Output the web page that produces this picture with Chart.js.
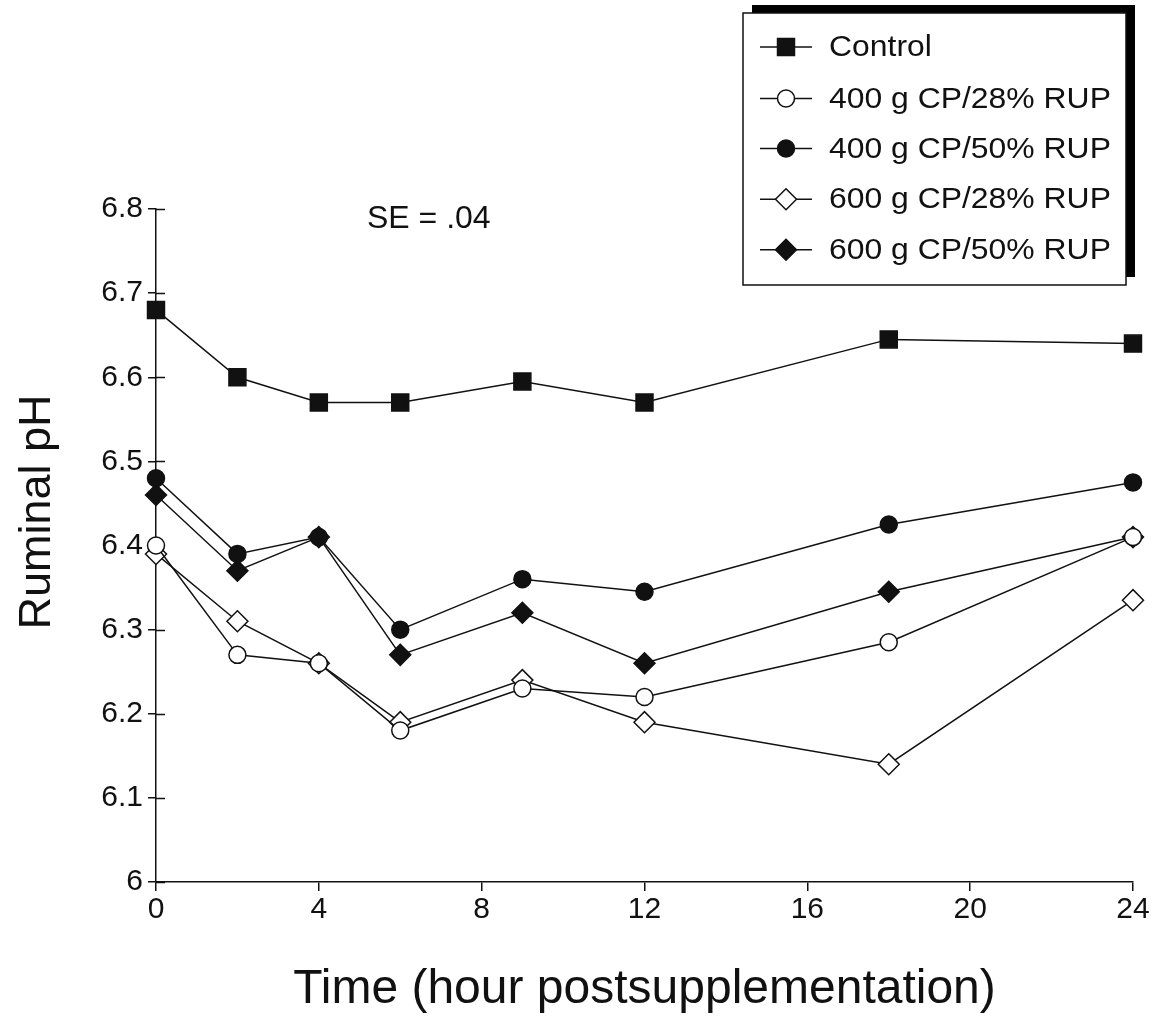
<!DOCTYPE html>
<html>
<head>
<meta charset="utf-8">
<title>Ruminal pH</title>
<script src="https://cdn.jsdelivr.net/npm/chart.js@4.4.1/dist/chart.umd.min.js"></script>
<style>
  html, body { margin: 0; padding: 0; background: #ffffff; }
  #wrap { width: 1159px; height: 1021px; }
  canvas { display: block; }
</style>
</head>
<body>
<div id="wrap"><canvas id="chart" width="1159" height="1021"></canvas></div>
<script>
// Sampling times (hours after supplementation)
const hours = [0, 2, 4, 6, 9, 12, 18, 24];

// Treatment names
const seriesNames = [
  'Control',
  '400 g CP/28% RUP',
  '400 g CP/50% RUP',
  '600 g CP/28% RUP',
  '600 g CP/50% RUP'
];

// Ruminal pH by treatment
const controlPH   = [6.68, 6.60, 6.57, 6.57, 6.595, 6.57, 6.645, 6.64];
const cp400rup28  = [6.40, 6.27, 6.26, 6.18, 6.23, 6.22, 6.285, 6.41];
const cp400rup50  = [6.48, 6.39, 6.41, 6.30, 6.36, 6.345, 6.425, 6.475];
const cp600rup28  = [6.39, 6.31, 6.26, 6.19, 6.24, 6.19, 6.14, 6.335];
const cp600rup50  = [6.46, 6.37, 6.41, 6.27, 6.32, 6.26, 6.345, 6.41];

// Axis ticks
const yTickValues = [6, 6.1, 6.2, 6.3, 6.4, 6.5, 6.6, 6.7, 6.8];
const yTickLabels = ['6', '6.1', '6.2', '6.3', '6.4', '6.5', '6.6', '6.7', '6.8'];
const xTickValues = [0, 4, 8, 12, 16, 20, 24];
const xTickLabels = ['0', '4', '8', '12', '16', '20', '24'];

const seLabel = 'SE = .04';
const xTitle = 'Time (hour postsupplementation)';
const yTitle = 'Ruminal pH';

const FONT = '"Liberation Sans", Arial, Helvetica, sans-serif';
const INK = '#111111';

function toPoints(vals) {
  return vals.map((v, i) => ({ x: hours[i], y: v }));
}

function series(label, vals, style, radius, fill) {
  return {
    label: label,
    data: toPoints(vals),
    borderColor: INK,
    borderWidth: 1.5,
    pointStyle: style,
    pointRadius: radius,
    pointHoverRadius: radius,
    pointBackgroundColor: fill,
    pointBorderColor: INK,
    pointBorderWidth: 1.5,
    tension: 0,
    fill: false,
    clip: false
  };
}

function drawMarker(ctx, style, r, cx, cy, fill) {
  ctx.beginPath();
  if (style === 'rect') {
    const s = r * Math.SQRT1_2;
    ctx.rect(cx - s, cy - s, 2 * s, 2 * s);
  } else if (style === 'rectRot') {
    ctx.moveTo(cx, cy - r);
    ctx.lineTo(cx + r, cy);
    ctx.lineTo(cx, cy + r);
    ctx.lineTo(cx - r, cy);
    ctx.closePath();
  } else {
    ctx.arc(cx, cy, r, 0, Math.PI * 2);
  }
  ctx.fillStyle = fill;
  ctx.fill();
  ctx.stroke();
}

// Inner halves of the y-axis tick marks (ticks cross the axis line)
const innerTicks = {
  id: 'innerTicks',
  beforeDatasetsDraw(chart) {
    const { ctx, chartArea, scales } = chart;
    ctx.save();
    ctx.strokeStyle = INK;
    ctx.lineWidth = 1.5;
    scales.y.ticks.forEach(t => {
      const py = Math.round(scales.y.getPixelForValue(t.value)) + 0.5;
      ctx.beginPath();
      ctx.moveTo(chartArea.left, py);
      ctx.lineTo(chartArea.left + 9, py);
      ctx.stroke();
    });
    ctx.restore();
  }
};

// Axis titles, SE note and the boxed legend with its shadow
const annotations = {
  id: 'annotations',
  afterDraw(chart) {
    const { ctx, chartArea } = chart;
    ctx.save();
    ctx.fillStyle = INK;

    // x-axis title
    ctx.font = '48px ' + FONT;
    ctx.textAlign = 'center';
    ctx.textBaseline = 'alphabetic';
    ctx.fillText(xTitle, (chartArea.left + chartArea.right) / 2, 1003);

    // y-axis title
    ctx.save();
    ctx.translate(50, 512);
    ctx.rotate(-Math.PI / 2);
    ctx.font = '45px ' + FONT;
    ctx.fillText(yTitle, 0, 0);
    ctx.restore();

    // standard error note
    ctx.font = '32px ' + FONT;
    ctx.textAlign = 'left';
    ctx.fillText(seLabel, 367, 228);

    // legend: shadow, box, entries
    const bx = 743, by = 13, bw = 383, bh = 272;
    ctx.fillStyle = '#000';
    ctx.fillRect(bx + 9, by - 8, bw, bh);
    ctx.fillStyle = '#fff';
    ctx.fillRect(bx, by, bw, bh);
    ctx.strokeStyle = INK;
    ctx.lineWidth = 1.5;
    ctx.strokeRect(bx, by, bw, bh);

    const rows = [45.5, 97, 147, 197.7, 248.3];
    chart.data.datasets.forEach((ds, i) => {
      const cy = rows[i];
      const ly = cy + 1.5;
      ctx.strokeStyle = INK;
      ctx.lineWidth = 1.5;
      ctx.beginPath();
      ctx.moveTo(760, ly);
      ctx.lineTo(812, ly);
      ctx.stroke();
      drawMarker(ctx, ds.pointStyle, ds.pointRadius, 786, ly, ds.pointBackgroundColor);
      ctx.save();
      ctx.fillStyle = INK;
      ctx.font = '29px ' + FONT;
      ctx.textAlign = 'left';
      ctx.textBaseline = 'alphabetic';
      ctx.translate(829, cy + 10.5);
      ctx.scale(1.1, 1);
      ctx.fillText(ds.label, 0, 0);
      ctx.restore();
    });
    ctx.restore();
  }
};

const chart = new Chart(document.getElementById('chart'), {
  type: 'line',
  data: {
    datasets: [
      series(seriesNames[0], controlPH, 'rect', 12, INK),
      series(seriesNames[1], cp400rup28, 'circle', 8.5, '#ffffff'),
      series(seriesNames[2], cp400rup50, 'circle', 8.5, INK),
      series(seriesNames[3], cp600rup28, 'rectRot', 10.5, '#ffffff'),
      series(seriesNames[4], cp600rup50, 'rectRot', 10.5, INK)
    ]
  },
  options: {
    responsive: false,
    animation: false,
    devicePixelRatio: 1,
    layout: { padding: { top: 209, right: 26, left: 0, bottom: 0 } },
    plugins: {
      legend: { display: false },
      tooltip: { enabled: false },
      title: { display: false }
    },
    scales: {
      x: {
        type: 'linear',
        position: 'bottom',
        min: 0,
        max: 24,
        afterBuildTicks: s => { s.ticks = xTickValues.map(v => ({ value: v })); },
        afterFit: s => { s.height = 139; },
        border: { display: true, color: INK, width: 1.5 },
        grid: { drawOnChartArea: false, drawTicks: true, tickLength: 9, color: INK, lineWidth: 1.5 },
        ticks: {
          color: INK,
          font: { family: FONT, size: 30 },
          padding: 1,
          maxRotation: 0,
          autoSkip: false,
          callback: (v, i) => xTickLabels[i]
        },
        title: { display: false }
      },
      y: {
        type: 'linear',
        position: 'left',
        min: 6,
        max: 6.8,
        afterBuildTicks: s => { s.ticks = yTickValues.map(v => ({ value: v })); },
        afterFit: s => { s.width = 156; },
        border: { display: true, color: INK, width: 1.5 },
        grid: { drawOnChartArea: false, drawTicks: true, tickLength: 8, color: INK, lineWidth: 1.5 },
        ticks: {
          color: INK,
          font: { family: FONT, size: 30 },
          padding: 5,
          autoSkip: false,
          callback: (v, i) => yTickLabels[i]
        },
        title: { display: false }
      }
    }
  },
  plugins: [innerTicks, annotations]
});
</script>
</body>
</html>
